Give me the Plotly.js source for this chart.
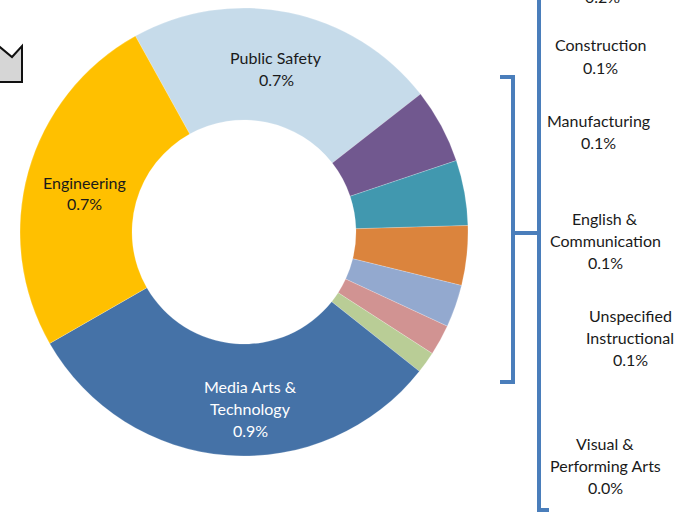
<!DOCTYPE html>
<html><head><meta charset="utf-8">
<script src="https://cdn.plot.ly/plotly-3.0.1.min.js"></script>
<style>html,body{margin:0;padding:0;background:#fff;overflow:hidden}</style>
</head><body><div id="chart" style="width:690px;height:515px"></div>
<script>
// Data
const categories = ["Public Safety", "Other Programs", "Construction", "Manufacturing",
  "English & Communication", "Unspecified Instructional", "Visual & Performing Arts",
  "Media Arts & Technology", "Engineering"];
const labelLines = [["Public Safety"], [], ["Construction"], ["Manufacturing"],
  ["English &", "Communication"], ["Unspecified", "Instructional"], ["Visual &", "Performing Arts"],
  ["Media Arts &", "Technology"], ["Engineering"]];
const percents = [0.66, 0.158, 0.138, 0.126, 0.09, 0.065, 0.046, 0.91, 0.74];
const sliceColors = ["#c6dbea", "#71588f", "#4198af", "#db843d", "#93a9cf",
  "#d19392", "#b9cd96", "#4572a7", "#ffc000"];

const W = 690, H = 515;
const px = x => x / W, py = y => 1 - y / H;
const FONT = "Lato, 'Open Sans', sans-serif";
const LINE = 22;

// label placement: pixel centre of first line, colour
const labelPos = [
  [276, 57, "#1a1a1a"], [602, -3, "#1a1a1a"], [600, 45, "#1a1a1a"], [598, 120, "#1a1a1a"],
  [605, 218, "#1a1a1a"], [630, 315, "#1a1a1a"], [605, 443, "#1a1a1a"],
  [250, 386, "#ffffff"], [84, 182, "#1a1a1a"]
];

const annotations = [];
categories.forEach((c, i) => {
  const lines = labelLines[i].concat([percents[i].toFixed(1) + "%"]);
  lines.forEach((t, k) => {
    annotations.push({
      xref: "paper", yref: "paper", x: px(labelPos[i][0]), y: py(labelPos[i][1] + k * LINE),
      xanchor: "center", yanchor: "middle", showarrow: false, align: "center",
      text: t, font: {family: FONT, size: 16, color: labelPos[i][2]}
    });
  });
});

const blue = "#4a7ebb";
const ln = (x0, y0, x1, y1) => ({type: "line", xref: "paper", yref: "paper",
  x0: px(x0), y0: py(y0), x1: px(x1), y1: py(y1), line: {color: blue, width: 4}});
const shapes = [
  ln(539, -5, 539, 510), ln(537, 510, 549, 510),
  ln(513, 77, 513, 382), ln(500, 77, 515, 77), ln(500, 382, 515, 382),
  ln(513, 233, 539, 233),
  {type: "path", xref: "paper", yref: "paper",
   path: `M ${px(-5)} ${py(43)} L ${px(12)} ${py(57)} L ${px(22)} ${py(46)} L ${px(22)} ${py(82)} L ${px(-5)} ${py(82)} Z`,
   fillcolor: "#d6d6d6", line: {color: "#111111", width: 2}}
];

const trace = {
  type: "pie", labels: categories, values: percents, sort: false,
  direction: "clockwise", rotation: -29, hole: 0.5,
  marker: {colors: sliceColors, line: {color: "rgba(255,255,255,0.4)", width: 0.5}},
  textinfo: "none", hoverinfo: "label+value", showlegend: false,
  domain: {x: [px(20), px(468)], y: [py(456), py(8)]}
};

Plotly.newPlot("chart", [trace], {
  width: W, height: H, margin: {l: 0, r: 0, t: 0, b: 0},
  paper_bgcolor: "#ffffff", showlegend: false,
  annotations: annotations, shapes: shapes
}, {displayModeBar: false, staticPlot: true});
</script></body></html>
